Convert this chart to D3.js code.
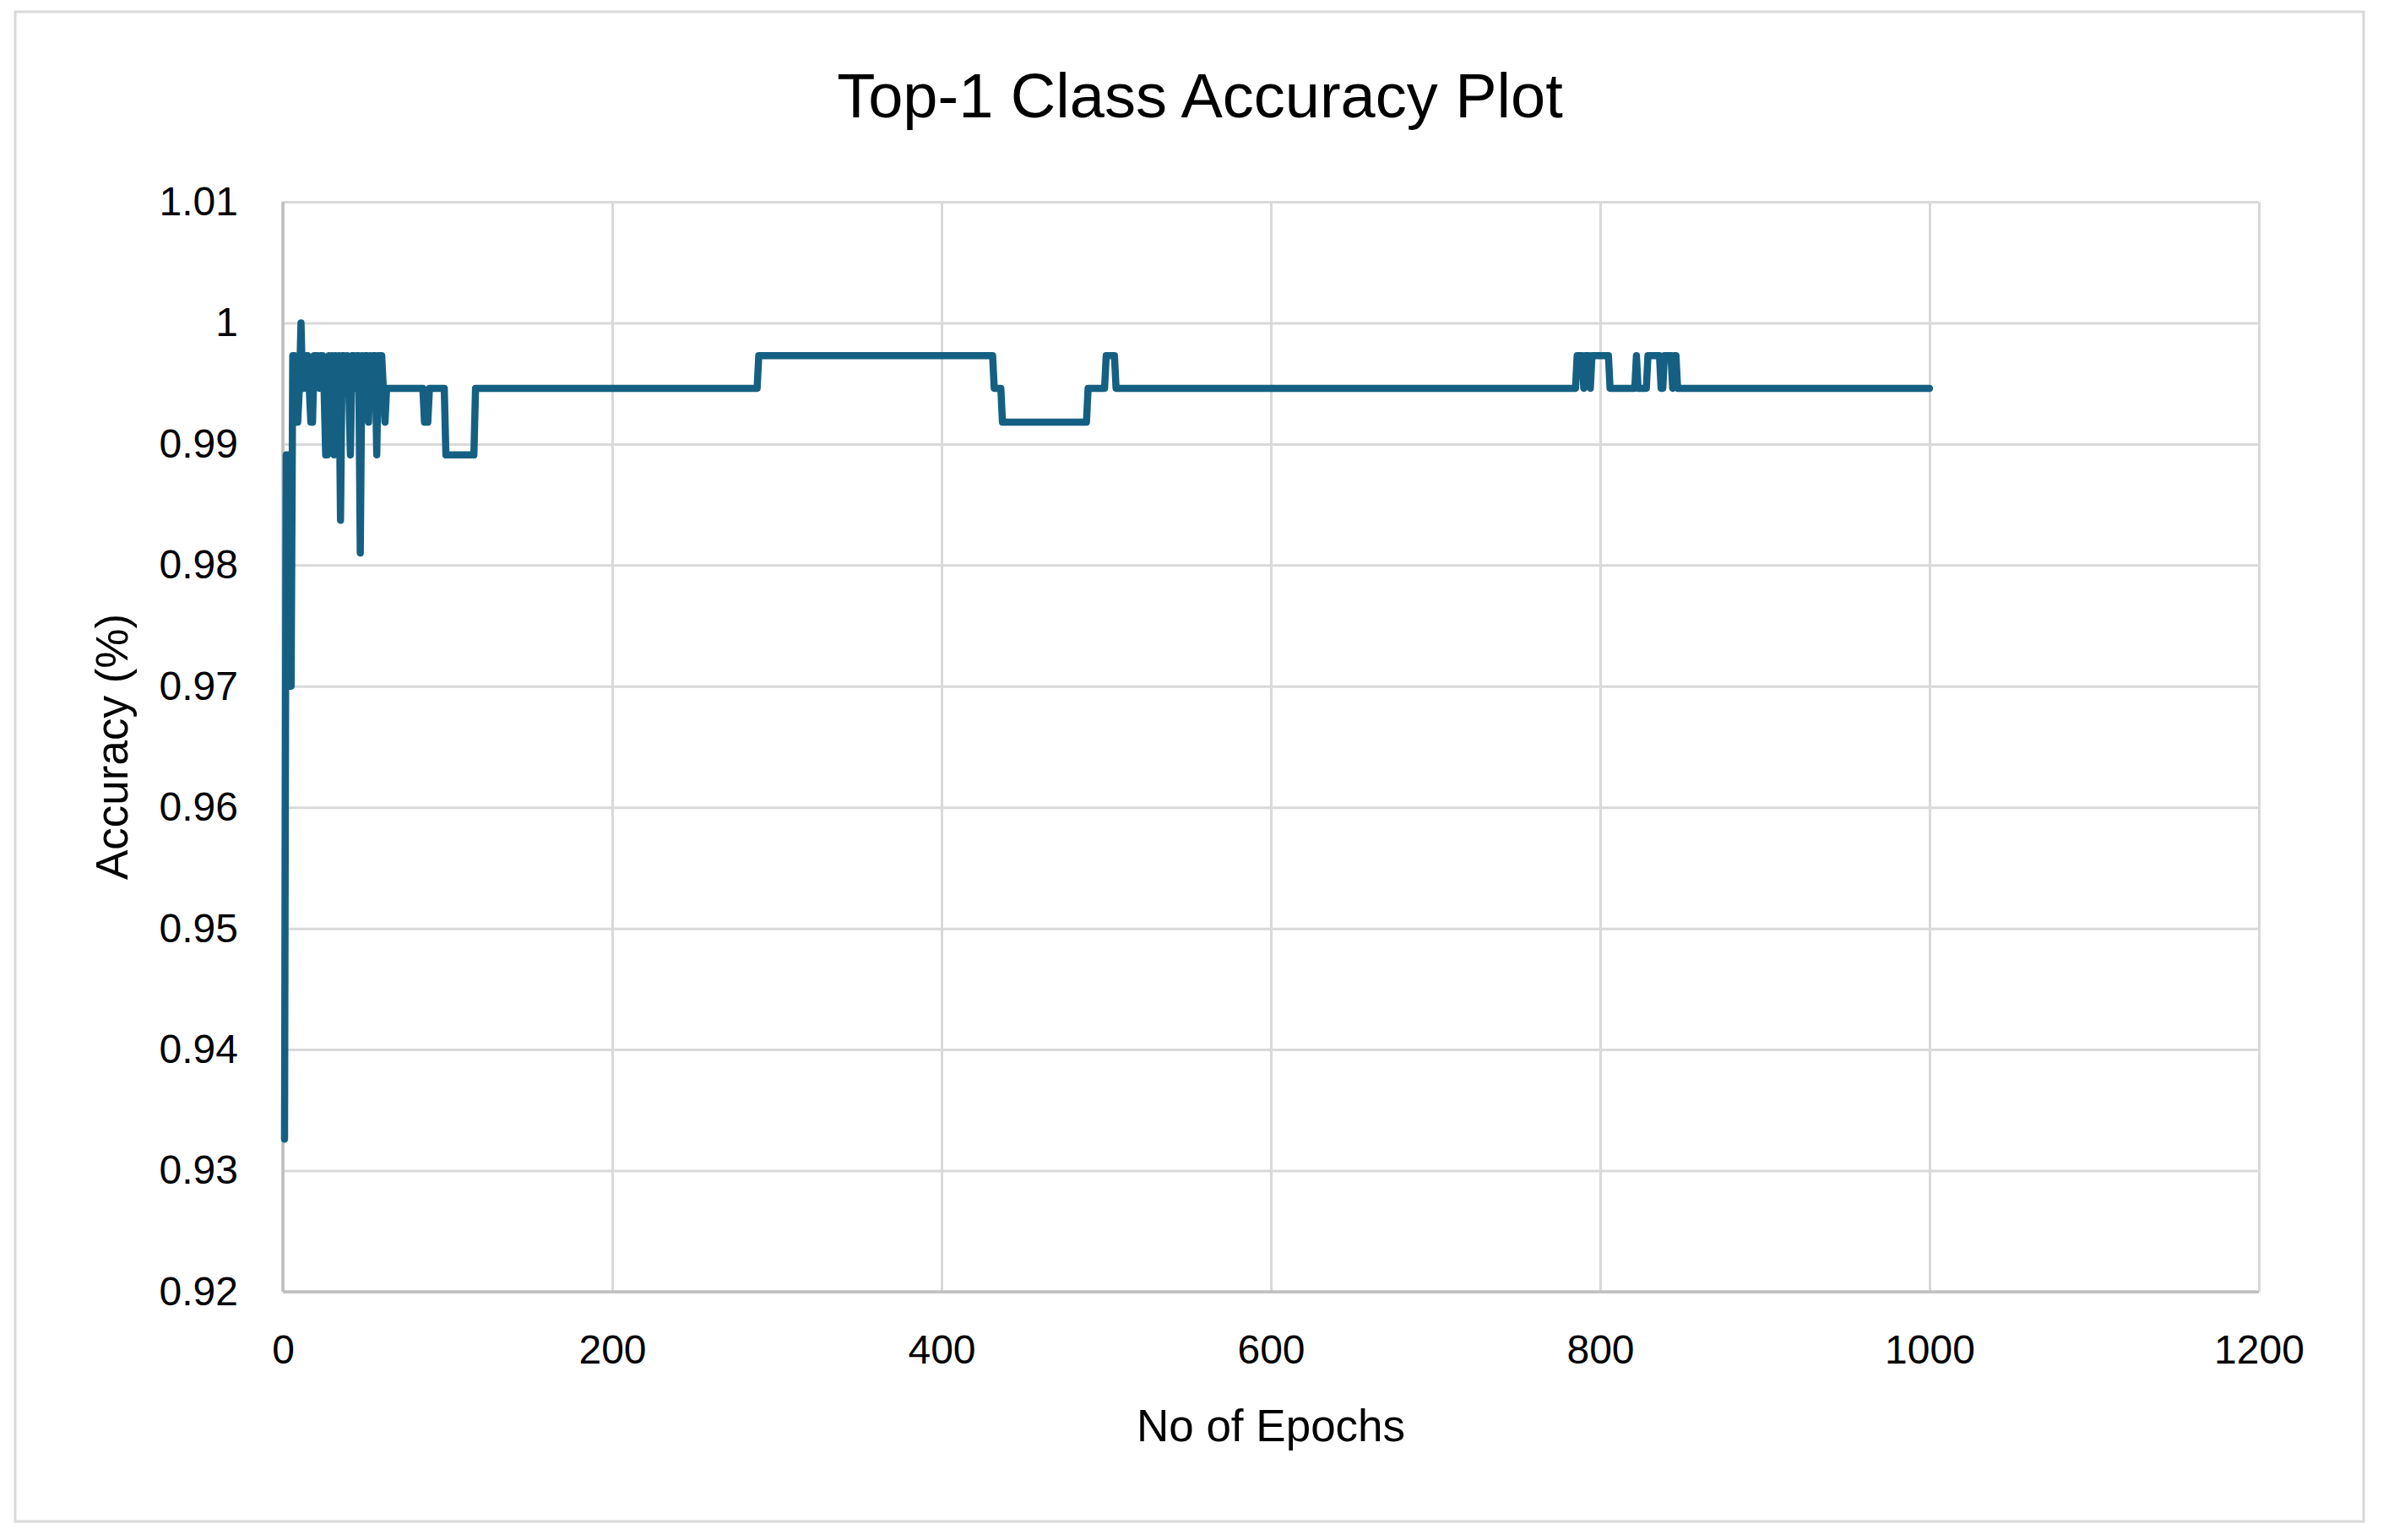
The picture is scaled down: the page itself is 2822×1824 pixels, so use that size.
<!DOCTYPE html>
<html>
<head>
<meta charset="utf-8">
<script src="https://cdn.jsdelivr.net/npm/d3@7"></script>
<style>
html,body{margin:0;padding:0;background:#ffffff;}
svg{display:block;}
</style>
</head>
<body>
<svg id="chart" width="2822" height="1824"></svg>
<script>
// ---- Data (key points of the accuracy curve; flat runs given by their end points) ----
const epochs = [
  1,2,3,4,5,6,7,8,9,10,
  11,12,13,14,15,16,17,18,19,20,
  21,22,23,24,25,26,27,28,29,30,
  31,32,33,34,35,36,37,38,39,40,
  41,42,43,44,45,46,47,48,49,50,
  51,52,53,54,55,56,57,58,59,60,
  61,62,63,85,86,88,89,98,99,116,
  117,288,289,431,432,436,437,488,489,499,
  500,505,506,785,786,789,790,791,793,794,
  795,805,806,821,822,823,828,829,836,837,
  838,839,843,844,845,846,847,1000
];
const accuracy = [
  0.9326,0.9891,0.9891,0.9700,0.9700,0.9973,0.9973,0.9918,0.9918,0.9946,
  1.0000,0.9946,0.9946,0.9973,0.9973,0.9946,0.9918,0.9918,0.9973,0.9973,
  0.9973,0.9946,0.9973,0.9973,0.9946,0.9891,0.9891,0.9973,0.9946,0.9973,
  0.9891,0.9973,0.9946,0.9973,0.9837,0.9973,0.9973,0.9946,0.9973,0.9946,
  0.9891,0.9973,0.9973,0.9946,0.9973,0.9973,0.9810,0.9973,0.9946,0.9973,
  0.9973,0.9918,0.9973,0.9946,0.9973,0.9973,0.9891,0.9973,0.9973,0.9973,
  0.9946,0.9918,0.9946,0.9946,0.9918,0.9918,0.9946,0.9946,0.9891,0.9891,
  0.9946,0.9946,0.9973,0.9973,0.9946,0.9946,0.9918,0.9918,0.9946,0.9946,
  0.9973,0.9973,0.9946,0.9946,0.9973,0.9973,0.9946,0.9973,0.9973,0.9946,
  0.9973,0.9973,0.9946,0.9946,0.9973,0.9946,0.9946,0.9973,0.9973,0.9946,
  0.9946,0.9973,0.9973,0.9946,0.9973,0.9973,0.9946,0.9946
];
const xTicks = [0, 200, 400, 600, 800, 1000, 1200];
const xTickLabels = ["0", "200", "400", "600", "800", "1000", "1200"];
const yTicks = [0.92, 0.93, 0.94, 0.95, 0.96, 0.97, 0.98, 0.99, 1.00, 1.01];
const yTickLabels = ["0.92", "0.93", "0.94", "0.95", "0.96", "0.97", "0.98", "0.99", "1", "1.01"];
const titleText = "Top-1 Class Accuracy Plot";
const xTitleText = "No of Epochs";
const yTitleText = "Accuracy (%)";

// ---- Layout ----
const W = 2822, H = 1824;
const plot = {left: 335, right: 2675, top: 239, bottom: 1530};
const FONT = "'Liberation Sans', Arial, sans-serif";
const lineColor = "#156082";
const gridColor = "#d9d9d9";
const axisColor = "#bfbfbf";

const svg = d3.select("#chart");
svg.append("rect").attr("x", 0).attr("y", 0).attr("width", W).attr("height", H).attr("fill", "#ffffff");
svg.append("rect")
  .attr("x", 18).attr("y", 14).attr("width", 2781).attr("height", 1788)
  .attr("fill", "none").attr("stroke", gridColor).attr("stroke-width", 3);

const x = d3.scaleLinear().domain([0, 1200]).range([plot.left, plot.right]);
const y = d3.scaleLinear().domain([0.92, 1.01]).range([plot.bottom, plot.top]);

// Y axis with horizontal gridlines
const yAxis = svg.append("g")
  .attr("transform", `translate(${plot.left},0)`)
  .call(d3.axisLeft(y).tickValues(yTicks)
    .tickSize(-(plot.right - plot.left))
    .tickPadding(53)
    .tickFormat((d, i) => yTickLabels[i]));
yAxis.select(".domain").remove();
yAxis.selectAll(".tick line").attr("stroke", gridColor).attr("stroke-width", 3);
yAxis.selectAll(".tick text")
  .attr("font-family", FONT).attr("font-size", 48).attr("fill", "#000000");

// X axis with vertical gridlines
const xAxis = svg.append("g")
  .attr("transform", `translate(0,${plot.bottom})`)
  .call(d3.axisBottom(x).tickValues(xTicks)
    .tickSize(-(plot.bottom - plot.top))
    .tickPadding(51)
    .tickFormat((d, i) => xTickLabels[i]));
xAxis.select(".domain").remove();
xAxis.selectAll(".tick line").attr("stroke", gridColor).attr("stroke-width", 3);
xAxis.selectAll(".tick text")
  .attr("font-family", FONT).attr("font-size", 48).attr("fill", "#000000");

// Axis lines (left and bottom)
svg.append("line")
  .attr("x1", x(0)).attr("x2", x(0)).attr("y1", y(1.01)).attr("y2", y(0.92))
  .attr("stroke", axisColor).attr("stroke-width", 3.5);
svg.append("line")
  .attr("x1", x(0)).attr("x2", x(1200)).attr("y1", y(0.92)).attr("y2", y(0.92))
  .attr("stroke", axisColor).attr("stroke-width", 3.5);

// Data line
const data = d3.zip(epochs, accuracy);
svg.append("path")
  .datum(data)
  .attr("fill", "none")
  .attr("stroke", lineColor)
  .attr("stroke-width", 8.5)
  .attr("stroke-linejoin", "round")
  .attr("stroke-linecap", "round")
  .attr("d", d3.line().x(d => x(d[0])).y(d => y(d[1])));

// Titles
svg.append("text")
  .attr("x", 1421).attr("y", 139)
  .attr("text-anchor", "middle")
  .attr("font-family", FONT).attr("font-size", 74).attr("fill", "#000000")
  .text(titleText);

svg.append("text")
  .attr("x", (plot.left + plot.right) / 2).attr("y", 1707)
  .attr("text-anchor", "middle")
  .attr("font-family", FONT).attr("font-size", 53).attr("fill", "#000000")
  .text(xTitleText);

svg.append("text")
  .attr("transform", `translate(151,${(plot.top + plot.bottom) / 2}) rotate(-90)`)
  .attr("text-anchor", "middle")
  .attr("font-family", FONT).attr("font-size", 53).attr("fill", "#000000")
  .text(yTitleText);
</script>
</body>
</html>
